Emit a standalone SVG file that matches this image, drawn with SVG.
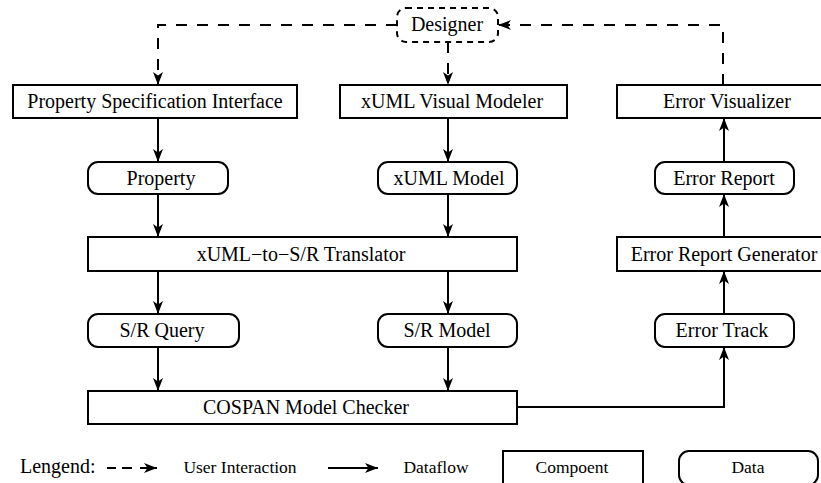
<svg xmlns="http://www.w3.org/2000/svg" width="821" height="483" viewBox="0 0 821 483">
<style>
  .box { fill: #fff; stroke: #000; stroke-width: 2; }
  .dbox { fill: #fff; stroke: #000; stroke-width: 2; stroke-dasharray: 6 5; }
  .t { font-family: "Liberation Serif", "Times New Roman", serif; font-size: 20px; fill: #000; text-anchor: middle; }
  .lt { font-family: "Liberation Serif", "Times New Roman", serif; font-size: 17.5px; fill: #000; text-anchor: middle; }
  .flow { fill: none; stroke: #000; stroke-width: 2; marker-end: url(#ah); }
  .ui { fill: none; stroke: #000; stroke-width: 2; stroke-dasharray: 11 10; marker-end: url(#ah); }
</style>
<defs>
  <marker id="ah" markerUnits="userSpaceOnUse" markerWidth="14" markerHeight="11" refX="13" refY="5.5" orient="auto">
    <path d="M0,0.5 L13,5.5 L0,10.5 L3.5,5.5 z" fill="#000"/>
  </marker>
</defs>
<rect width="821" height="483" fill="#fff"/>

<g id="connectors">
  <path class="ui" d="M397,25 H158 V85"/>
  <path class="ui" d="M448,42 V85"/>
  <path class="ui" d="M723,85 V25 H498"/>
  <path class="flow" d="M158,118 V162"/>
  <path class="flow" d="M158,194 V237"/>
  <path class="flow" d="M448,118 V162"/>
  <path class="flow" d="M448,194 V237"/>
  <path class="flow" d="M158,271 V314"/>
  <path class="flow" d="M448,271 V314"/>
  <path class="flow" d="M158,347 V391"/>
  <path class="flow" d="M448,347 V391"/>
  <path class="flow" d="M517,407 H724 V347"/>
  <path class="flow" d="M724,314 V271"/>
  <path class="flow" d="M724,237 V194"/>
  <path class="flow" d="M724,162 V118"/>
</g>

<g id="designer">
  <rect class="dbox" x="397" y="8" width="101" height="34" rx="9"/>
  <text class="t" x="447" y="31">Designer</text>
</g>
<g id="psi">
  <rect class="box" x="13" y="85" width="284" height="33"/>
  <text class="t" x="155" y="108">Property Specification Interface</text>
</g>
<g id="xuml-vm">
  <rect class="box" x="340" y="85" width="227" height="33"/>
  <text class="t" x="452" y="108">xUML Visual Modeler</text>
</g>
<g id="error-visualizer">
  <rect class="box" x="617" y="85" width="213" height="33"/>
  <text class="t" x="727" y="108">Error Visualizer</text>
</g>
<g id="property">
  <rect class="box" x="88" y="162" width="140" height="32" rx="10"/>
  <text class="t" x="161" y="185">Property</text>
</g>
<g id="xuml-model">
  <rect class="box" x="378" y="162" width="139" height="32" rx="10"/>
  <text class="t" x="449" y="185">xUML Model</text>
</g>
<g id="error-report">
  <rect class="box" x="655" y="162" width="139" height="32" rx="10"/>
  <text class="t" x="724" y="185">Error Report</text>
</g>
<g id="translator">
  <rect class="box" x="88" y="237" width="429" height="34"/>
  <text class="t" x="301" y="261">xUML−to−S/R Translator</text>
</g>
<g id="error-report-generator">
  <rect class="box" x="617" y="237" width="213" height="34"/>
  <text class="t" x="724" y="261">Error Report Generator</text>
</g>
<g id="sr-query">
  <rect class="box" x="88" y="314" width="151" height="33" rx="10"/>
  <text class="t" x="162" y="337">S/R Query</text>
</g>
<g id="sr-model">
  <rect class="box" x="378" y="314" width="139" height="33" rx="10"/>
  <text class="t" x="447" y="337">S/R Model</text>
</g>
<g id="error-track">
  <rect class="box" x="655" y="314" width="139" height="33" rx="10"/>
  <text class="t" x="722" y="337">Error Track</text>
</g>
<g id="cospan">
  <rect class="box" x="88" y="391" width="429" height="33"/>
  <text class="t" x="306" y="414">COSPAN Model Checker</text>
</g>

<g id="legend">
  <text class="t" x="20" y="473" style="text-anchor:start">Lengend:</text>
  <path d="M107,468 H116 M122,468 H132" fill="none" stroke="#000" stroke-width="2"/>
  <path d="M140,468 H157" fill="none" stroke="#000" stroke-width="2" marker-end="url(#ah)"/>
  <text class="lt" x="240" y="473">User Interaction</text>
  <path d="M328,468 H378" fill="none" stroke="#000" stroke-width="2" marker-end="url(#ah)"/>
  <text class="lt" x="436" y="473">Dataflow</text>
  <rect class="box" x="503" y="451" width="140" height="36"/>
  <text class="lt" x="572" y="473">Compoent</text>
  <rect class="box" x="679" y="451" width="139" height="34" rx="10"/>
  <text class="lt" x="748" y="473">Data</text>
</g>
</svg>
